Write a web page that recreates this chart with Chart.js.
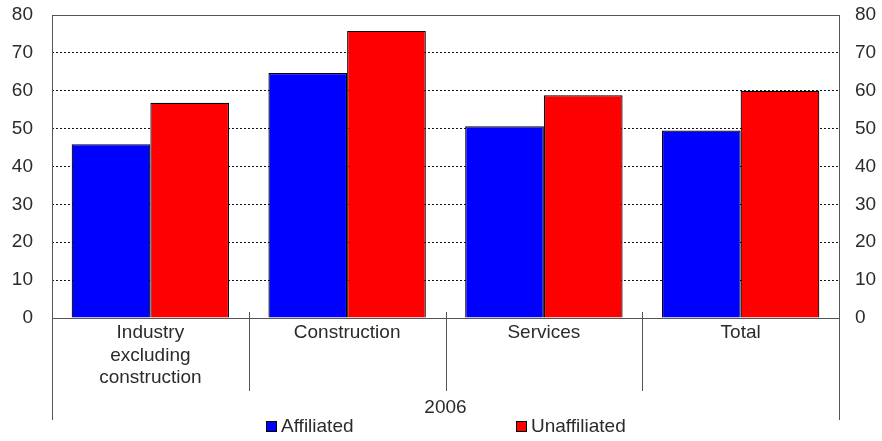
<!DOCTYPE html>
<html>
<head>
<meta charset="utf-8">
<script src="https://cdn.jsdelivr.net/npm/chart.js@4.4.1/dist/chart.umd.min.js"></script>
<style>
  html, body { margin: 0; padding: 0; background: #fff; }
  #wrap { width: 882px; height: 441px; position: relative; }
</style>
</head>
<body>
<div id="wrap"><canvas id="chart"></canvas></div>
<script>
// Sectors along the x axis and the shared period label under them
const categories = [['Industry', 'excluding', 'construction'], 'Construction', 'Services', 'Total'];
const periodLabel = '2006';

// Share by sector, per cent
const affiliated = [45.9, 64.7, 50.6, 49.5];
const unaffiliated = [56.8, 75.8, 58.8, 60.0];

const yTicks = [0, 10, 20, 30, 40, 50, 60, 70, 80];

const textColor = '#2b2b2b';
const frameColor = '#555555';
const fontFamily = '"Liberation Sans", Arial, sans-serif';

// Frame, category separators, period label and legend
const decorations = {
    id: 'decorations',
    afterDraw(chart) {
        const ctx = chart.ctx;
        const area = chart.chartArea;
        const n = categories.length;
        const step = (area.right - area.left) / n;

        ctx.save();
        ctx.strokeStyle = frameColor;
        ctx.lineWidth = 1;
        ctx.setLineDash([]);
        ctx.strokeRect(area.left + 0.5, area.top + 0.5, area.right - area.left, area.bottom - area.top);

        // outer edges run down past the labels
        ctx.beginPath();
        ctx.moveTo(area.left + 0.5, area.bottom);
        ctx.lineTo(area.left + 0.5, area.bottom + 102);
        ctx.moveTo(area.right + 0.5, area.bottom);
        ctx.lineTo(area.right + 0.5, area.bottom + 102);
        // inner separators between sectors
        for (let i = 1; i < n; i++) {
            const x = Math.round(area.left + step * i) + 0.5;
            ctx.moveTo(x, area.bottom - 6);
            ctx.lineTo(x, area.bottom + 73);
        }
        ctx.stroke();

        ctx.font = '19px ' + fontFamily;
        ctx.fillStyle = textColor;
        ctx.textAlign = 'center';
        ctx.textBaseline = 'middle';
        ctx.fillText(periodLabel, (area.left + area.right) / 2, area.bottom + 90);

        // legend
        const legendX = [266, 516];
        const legendY = area.bottom + 103;
        chart.data.datasets.forEach((ds, i) => {
            ctx.fillStyle = ds.backgroundColor;
            ctx.fillRect(legendX[i], legendY, 10, 10);
            ctx.strokeStyle = '#000';
            ctx.strokeRect(legendX[i] + 0.5, legendY + 0.5, 10, 10);
            ctx.fillStyle = textColor;
            ctx.textAlign = 'left';
            ctx.fillText(ds.label, legendX[i] + 15, legendY + 5.5);
        });
        ctx.restore();
    }
};

const yAxis = (position, padding) => ({
    type: 'linear',
    position: position,
    min: 0,
    max: 80,
    afterBuildTicks: (scale) => { scale.ticks = yTicks.map(v => ({ value: v })); },
    afterFit: (scale) => {
        scale.width = position === 'left' ? 52 : 43;
        scale.paddingTop = 0;
        scale.paddingBottom = 0;
    },
    grid: {
        display: position === 'left',
        drawTicks: false,
        color: '#111',
        lineWidth: 1
    },
    border: { display: false, dash: [2, 2] },
    ticks: {
        padding: padding,
        color: textColor,
        font: { size: 19, family: fontFamily }
    }
});

const ctx = document.getElementById('chart').getContext('2d');
const chart = new Chart(ctx, {
    type: 'bar',
    data: {
        labels: categories,
        datasets: [{
            label: 'Affiliated',
            data: affiliated,
            backgroundColor: '#0000ff',
            borderColor: '#000',
            borderWidth: 1.2,
            categoryPercentage: 0.8,
            barPercentage: 1.0
        }, {
            label: 'Unaffiliated',
            data: unaffiliated,
            backgroundColor: '#ff0000',
            borderColor: '#000',
            borderWidth: 1.2,
            categoryPercentage: 0.8,
            barPercentage: 1.0
        }]
    },
    options: {
        responsive: true,
        maintainAspectRatio: false,
        animation: false,
        layout: { padding: { top: 15, left: 0, right: 0, bottom: 0 } },
        scales: {
            x: {
                grid: { display: false, drawTicks: false },
                border: { display: false },
                afterFit: (scale) => {
                    scale.height = 123;
                    scale.paddingLeft = 0;
                    scale.paddingRight = 0;
                },
                ticks: {
                    padding: 4,
                    autoSkip: false,
                    maxRotation: 0,
                    color: textColor,
                    font: { size: 19, family: fontFamily, lineHeight: 1.18 }
                }
            },
            y: yAxis('left', 19),
            y2: yAxis('right', 16)
        },
        plugins: {
            legend: { display: false },
            tooltip: { enabled: false }
        }
    },
    plugins: [decorations]
});
</script>
</body>
</html>
